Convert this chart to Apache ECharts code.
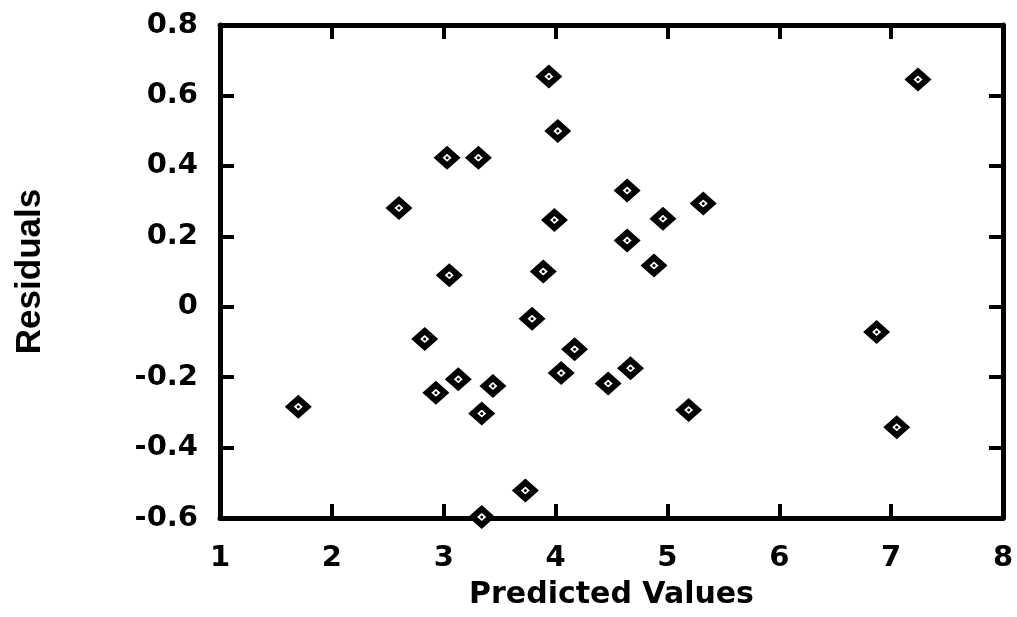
<!DOCTYPE html>
<html>
<head>
<meta charset="utf-8">
<script src="https://cdn.jsdelivr.net/npm/echarts@6/dist/echarts.min.js"></script>
<style>
html,body{margin:0;padding:0;background:#fff;}
#c{width:1017px;height:617px;}
</style>
</head>
<body>
<div id="c"></div>
<script>
// Data
const predicted = [1.70, 2.60, 2.83, 2.93, 3.03, 3.05, 3.13, 3.31, 3.34, 3.34, 3.44, 3.73, 3.79, 3.89, 3.94, 3.99, 4.02, 4.05, 4.17, 4.47, 4.64, 4.64, 4.67, 4.88, 4.96, 5.19, 5.32, 6.87, 7.05, 7.24];
const residuals = [-0.284, 0.28, -0.092, -0.244, 0.423, 0.089, -0.206, 0.423, -0.303, -0.597, -0.225, -0.522, -0.034, 0.10, 0.654, 0.246, 0.499, -0.188, -0.121, -0.218, 0.33, 0.188, -0.175, 0.117, 0.25, -0.293, 0.293, -0.072, -0.342, 0.645];
const xTicks = [1, 2, 3, 4, 5, 6, 7, 8];
const yTicks = [-0.6, -0.4, -0.2, 0, 0.2, 0.4, 0.6, 0.8];
const xTitle = 'Predicted Values';
const yTitle = 'Residuals';

const points = predicted.map((x, i) => [x, residuals[i]]);

const chart = echarts.init(document.getElementById('c'));
const lineStyle = {color: '#000', width: 5};
const tickStyle = {show: true, inside: true, length: 14, lineStyle: {color: '#000', width: 4}};
const labelFont = {fontFamily: 'DejaVu Sans', fontWeight: 'bold', fontSize: 29, color: '#000'};

function fmtY(v) {
  const r = Math.round(v * 10) / 10;
  return r === 0 ? '0' : String(r);
}

chart.setOption({
  animation: false,
  backgroundColor: '#fff',
  grid: {left: 220, right: 14, top: 25, bottom: 99},
  xAxis: [
    {
      type: 'value', min: xTicks[0], max: xTicks[xTicks.length - 1], interval: 1,
      position: 'bottom',
      axisLine: {show: true, onZero: false, lineStyle: lineStyle},
      axisTick: tickStyle,
      splitLine: {show: false},
      axisLabel: Object.assign({margin: 26}, labelFont),
      name: xTitle, nameLocation: 'middle', nameGap: 62,
      nameTextStyle: {fontFamily: 'DejaVu Sans', fontWeight: 'bold', fontSize: 30, color: '#000'}
    },
    {
      type: 'value', min: xTicks[0], max: xTicks[xTicks.length - 1], interval: 1,
      position: 'top',
      axisLine: {show: true, onZero: false, lineStyle: lineStyle},
      axisTick: tickStyle,
      splitLine: {show: false},
      axisLabel: {show: false}
    }
  ],
  yAxis: [
    {
      type: 'value', min: yTicks[0], max: yTicks[yTicks.length - 1], interval: 0.2,
      position: 'left',
      axisLine: {show: true, onZero: false, lineStyle: lineStyle},
      axisTick: tickStyle,
      splitLine: {show: false},
      axisLabel: Object.assign({margin: 22, formatter: fmtY}, labelFont),
      name: yTitle, nameLocation: 'middle', nameGap: 172,
      nameTextStyle: {fontFamily: 'Liberation Sans', fontWeight: 'bold', fontSize: 35, color: '#000'}
    },
    {
      type: 'value', min: yTicks[0], max: yTicks[yTicks.length - 1], interval: 0.2,
      position: 'right',
      axisLine: {show: true, onZero: false, lineStyle: lineStyle},
      axisTick: tickStyle,
      splitLine: {show: false},
      axisLabel: {show: false}
    }
  ],
  series: [
    {
      type: 'scatter', xAxisIndex: 0, yAxisIndex: 0, data: points, clip: false,
      symbol: 'diamond', symbolSize: [18, 16],
      itemStyle: {color: '#fff', borderColor: '#000', borderWidth: 6, opacity: 1},
      z: 3
    },
    {
      type: 'scatter', xAxisIndex: 0, yAxisIndex: 0, data: points, clip: false,
      symbol: 'circle', symbolSize: 3,
      itemStyle: {color: '#000', opacity: 1},
      z: 4
    }
  ]
});
</script>
</body>
</html>
